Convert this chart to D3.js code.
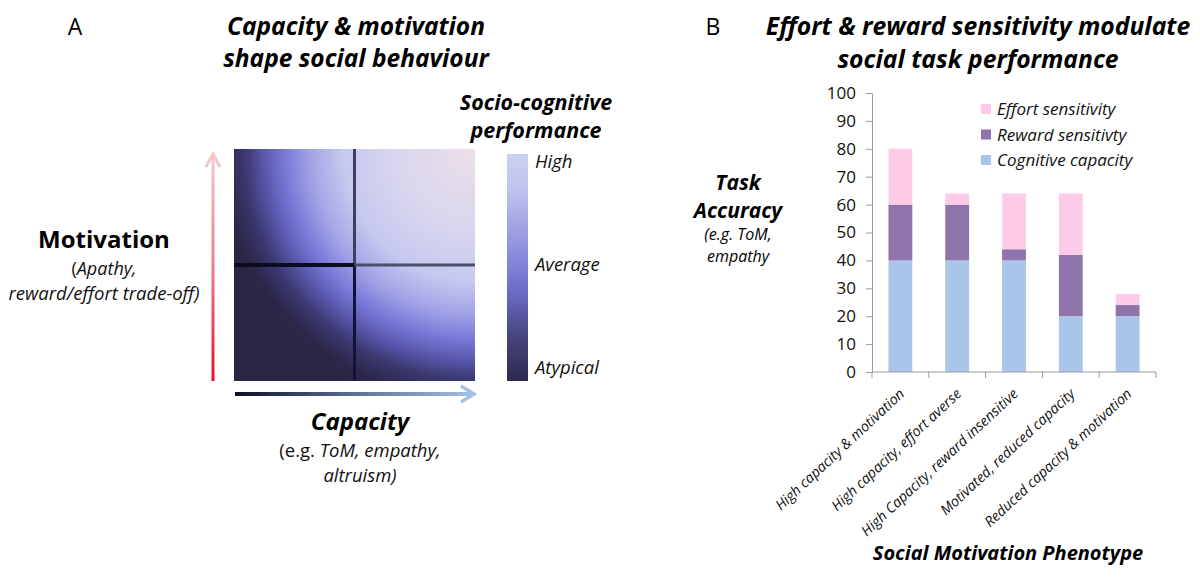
<!DOCTYPE html>
<html>
<head>
<meta charset="utf-8">
<script src="https://cdn.jsdelivr.net/npm/d3@7"></script>
<style>
    body { margin: 0; background: #fff; }
    svg { display: block; font-family: "Open Sans", Lato, sans-serif; }
</style>
</head>
<body>
<svg id="fig"></svg>
<script>
const   width  = 1200,
        height = 583;

// ---- panel B data ----
const phenotypes = [
    "High capacity & motivation",
    "High capacity, effort averse",
    "High Capacity, reward insensitive",
    "Motivated, reduced capacity",
    "Reduced capacity & motivation"
];
const cognitive = [40, 40, 40, 20, 20];
const reward    = [20, 20, 4, 22, 4];
const effort    = [20, 4, 20, 22, 4];
const seriesKeys   = ["cognitive", "reward", "effort"];
const seriesLabels = ["Cognitive capacity", "Reward sensitivty", "Effort sensitivity"];
const seriesColors = ["#a9c5ea", "#8e74ab", "#fccbe8"];
const yTicks = [0, 10, 20, 30, 40, 50, 60, 70, 80, 90, 100];

// ---- panel A gradients ----
const perfLabels = ["High", "Average", "Atypical"];
const heatStops = [
    [0.00, "#ecdfe8"],
    [0.30, "#d9d6ee"],
    [0.50, "#c6c8ef"],
    [0.62, "#a3a4e6"],
    [0.72, "#7878d8"],
    [0.80, "#5856aa"],
    [0.87, "#3b3870"],
    [0.95, "#2c2749"],
    [1.00, "#2a2542"]
];
const scaleStops = [
    [0.00, "#ccd0ef"],
    [0.15, "#c0c4ee"],
    [0.45, "#8a8adc"],
    [0.60, "#6d6dca"],
    [0.80, "#47457f"],
    [1.00, "#2e2a4e"]
];

var svg = d3.select("#fig")
    .attr("width", width)
    .attr("height", height);

svg.append("rect").attr("width", width).attr("height", height).attr("fill", "#fff");

const defs = svg.append("defs");

// helper for text with mixed italic parts
function richText(g, x, y, parts, size, anchor) {
    const t = g.append("text")
        .attr("x", x).attr("y", y)
        .attr("text-anchor", anchor || "middle")
        .attr("font-size", size)
        .attr("fill", "#111");
    parts.forEach(p => {
        t.append("tspan")
            .attr("font-style", p.italic ? "italic" : "normal")
            .attr("font-weight", p.bold ? "bold" : "normal")
            .text(p.t);
    });
    return t;
}

// =================== PANEL A ===================
const A = svg.append("g");

const HEAT = { x: 234, y: 149, w: 241, h: 232 };

const heatGrad = defs.append("radialGradient")
    .attr("id", "heat")
    .attr("gradientUnits", "userSpaceOnUse")
    .attr("cx", HEAT.x + HEAT.w).attr("cy", HEAT.y)
    .attr("fx", HEAT.x + HEAT.w).attr("fy", HEAT.y)
    .attr("r", 265);
heatGrad.selectAll("stop").data(heatStops).enter().append("stop")
    .attr("offset", d => d[0]).attr("stop-color", d => d[1]);

A.append("rect")
    .attr("x", HEAT.x).attr("y", HEAT.y)
    .attr("width", HEAT.w).attr("height", HEAT.h)
    .attr("fill", "url(#heat)");

// quadrant dividers
const midX = HEAT.x + HEAT.w / 2, midY = HEAT.y + HEAT.h / 2;
A.append("line").attr("x1", midX).attr("x2", midX).attr("y1", HEAT.y).attr("y2", midY)
    .attr("stroke", "#3c3f5e").attr("stroke-width", 3);
A.append("line").attr("x1", midX).attr("x2", midX).attr("y1", midY).attr("y2", HEAT.y + HEAT.h)
    .attr("stroke", "#12123a").attr("stroke-width", 3);
A.append("line").attr("x1", HEAT.x).attr("x2", midX).attr("y1", midY).attr("y2", midY)
    .attr("stroke", "#0c0c20").attr("stroke-width", 4);
A.append("line").attr("x1", midX).attr("x2", HEAT.x + HEAT.w).attr("y1", midY).attr("y2", midY)
    .attr("stroke", "#4a4f6c").attr("stroke-width", 3);

// colour bar
const barGrad = defs.append("linearGradient")
    .attr("id", "perf").attr("x1", 0).attr("x2", 0).attr("y1", 0).attr("y2", 1);
barGrad.selectAll("stop").data(scaleStops).enter().append("stop")
    .attr("offset", d => d[0]).attr("stop-color", d => d[1]);

const CB = { x: 507, y: 154, w: 21, h: 227 };
A.append("rect").attr("x", CB.x).attr("y", CB.y).attr("width", CB.w).attr("height", CB.h)
    .attr("fill", "url(#perf)");

const perfY = d3.scalePoint().domain(perfLabels).range([168, 374]);
A.selectAll(".perf").data(perfLabels).enter().append("text")
    .attr("x", 535).attr("y", d => perfY(d))
    .attr("font-size", 18.5).attr("font-style", "italic").attr("fill", "#111")
    .text(d => d);

A.append("text").attr("x", 536).attr("y", 110).attr("text-anchor", "middle")
    .attr("font-size", 21.5).attr("font-weight", "bold").attr("font-style", "italic")
    .text("Socio-cognitive");
A.append("text").attr("x", 536).attr("y", 138).attr("text-anchor", "middle")
    .attr("font-size", 21.5).attr("font-weight", "bold").attr("font-style", "italic")
    .text("performance");

// titles
A.append("text").attr("x", 75).attr("y", 35).attr("text-anchor", "middle")
    .attr("font-size", 23).text("A");
A.append("text").attr("x", 356).attr("y", 35).attr("text-anchor", "middle")
    .attr("font-size", 24.5).attr("font-weight", "bold").attr("font-style", "italic")
    .text("Capacity & motivation");
A.append("text").attr("x", 356).attr("y", 67).attr("text-anchor", "middle")
    .attr("font-size", 24.5).attr("font-weight", "bold").attr("font-style", "italic")
    .text("shape social behaviour");

// motivation arrow
const motGrad = defs.append("linearGradient")
    .attr("id", "mot").attr("gradientUnits", "userSpaceOnUse")
    .attr("x1", 0).attr("x2", 0).attr("y1", 155).attr("y2", 381);
motGrad.append("stop").attr("offset", 0).attr("stop-color", "#efcaca");
motGrad.append("stop").attr("offset", 0.5).attr("stop-color", "#ec7d86");
motGrad.append("stop").attr("offset", 1).attr("stop-color", "#e8122c");
A.append("rect").attr("x", 211.5).attr("y", 155).attr("width", 3).attr("height", 226)
    .attr("fill", "url(#mot)");
A.append("path").attr("d", "M206,167 L213,154 L220,167")
    .attr("fill", "none").attr("stroke", "#efc8c8").attr("stroke-width", 3);

A.append("text").attr("x", 104).attr("y", 248).attr("text-anchor", "middle")
    .attr("font-size", 24).attr("font-weight", "bold").text("Motivation");
richText(A, 104, 275, [{ t: "(" }, { t: "Apathy,", italic: true }], 18);
richText(A, 104, 300, [{ t: "reward/effort trade-off)", italic: true }], 18.5);

// capacity arrow
const capGrad = defs.append("linearGradient")
    .attr("id", "cap").attr("gradientUnits", "userSpaceOnUse")
    .attr("x1", 235).attr("x2", 475).attr("y1", 0).attr("y2", 0);
capGrad.append("stop").attr("offset", 0).attr("stop-color", "#0a0f2e");
capGrad.append("stop").attr("offset", 0.5).attr("stop-color", "#5c7196");
capGrad.append("stop").attr("offset", 1).attr("stop-color", "#a6c0e6");
A.append("rect").attr("x", 235).attr("y", 392).attr("width", 238).attr("height", 4)
    .attr("fill", "url(#cap)");
A.append("path").attr("d", "M461,386 L474,394 L461,402")
    .attr("fill", "none").attr("stroke", "#a6c0e6").attr("stroke-width", 3.5);

A.append("text").attr("x", 360).attr("y", 430).attr("text-anchor", "middle")
    .attr("font-size", 24).attr("font-weight", "bold").attr("font-style", "italic")
    .text("Capacity");
richText(A, 360, 457, [{ t: "(e.g. " }, { t: "ToM, empathy,", italic: true }], 18.5);
richText(A, 360, 482, [{ t: "altruism)", italic: true }], 18.5);

// =================== PANEL B ===================
const B = svg.append("g");

const rows = phenotypes.map((p, i) => ({
    name: p, cognitive: cognitive[i], reward: reward[i], effort: effort[i]
}));
const stacked = d3.stack().keys(seriesKeys)(rows);

const x = d3.scaleBand()
    .domain(phenotypes)
    .range([872, 1156])
    .paddingInner(0.58)
    .paddingOuter(0.29);

const y = d3.scaleLinear().domain([0, 100]).range([372, 93]);

const color = d3.scaleOrdinal().domain(seriesKeys).range(seriesColors);

B.selectAll("g.series").data(stacked).enter().append("g")
    .attr("class", "series")
    .attr("fill", d => color(d.key))
    .selectAll("rect").data(d => d).enter().append("rect")
    .attr("x", d => x(d.data.name))
    .attr("width", x.bandwidth())
    .attr("y", d => y(d[1]))
    .attr("height", d => y(d[0]) - y(d[1]));

// y axis
const yAxis = B.append("g")
    .attr("transform", "translate(872,0)")
    .call(d3.axisLeft(y).tickValues(yTicks).tickSize(6).tickSizeOuter(0).tickPadding(10));
yAxis.select(".domain").attr("stroke", "#9a9a9a");
yAxis.selectAll(".tick line").attr("stroke", "#9a9a9a");
yAxis.selectAll(".tick text")
    .attr("font-family", "'Open Sans', sans-serif").attr("font-size", 17).attr("fill", "#111");

// x axis: line + boundary ticks
const x0 = x.range()[0], x1 = x.range()[1];
B.append("line").attr("x1", x0).attr("x2", x1).attr("y1", y(0)).attr("y2", y(0))
    .attr("stroke", "#9a9a9a");
B.selectAll(".xtick").data(d3.range(phenotypes.length + 1)).enter().append("line")
    .attr("x1", i => x0 + i * x.step()).attr("x2", i => x0 + i * x.step())
    .attr("y1", y(0)).attr("y2", y(0) + 6)
    .attr("stroke", "#9a9a9a");

B.selectAll(".xlab").data(phenotypes).enter().append("text")
    .attr("transform", d => `translate(${x(d) + x.bandwidth() / 2 + 5},${y(0) + 23}) rotate(-43)`)
    .attr("text-anchor", "end")
    .attr("font-size", 14.3).attr("font-style", "italic").attr("fill", "#111")
    .text(d => d);

// legend (top to bottom: effort, reward, cognitive)
const legendOrder = seriesKeys.slice().reverse();
const legY = d3.scalePoint().domain(legendOrder).range([109, 160]);
const leg = B.selectAll(".leg").data(legendOrder).enter().append("g")
    .attr("transform", d => `translate(981,${legY(d)})`);
leg.append("rect").attr("x", 0).attr("y", -5).attr("width", 10).attr("height", 10)
    .attr("fill", d => color(d));
leg.append("text").attr("x", 16).attr("y", 6)
    .attr("font-size", 17).attr("font-style", "italic").attr("fill", "#111")
    .text(d => seriesLabels[seriesKeys.indexOf(d)]);

// titles
B.append("text").attr("x", 713).attr("y", 35).attr("text-anchor", "middle")
    .attr("font-size", 23).text("B");
B.append("text").attr("x", 978).attr("y", 35).attr("text-anchor", "middle")
    .attr("font-size", 24.7).attr("font-weight", "bold").attr("font-style", "italic")
    .text("Effort & reward sensitivity modulate");
B.append("text").attr("x", 978).attr("y", 68).attr("text-anchor", "middle")
    .attr("font-size", 24.7).attr("font-weight", "bold").attr("font-style", "italic")
    .text("social task performance");

// y title
B.append("text").attr("x", 738).attr("y", 190).attr("text-anchor", "middle")
    .attr("font-size", 21).attr("font-weight", "bold").attr("font-style", "italic").text("Task");
B.append("text").attr("x", 738).attr("y", 218).attr("text-anchor", "middle")
    .attr("font-size", 21).attr("font-weight", "bold").attr("font-style", "italic").text("Accuracy");
B.append("text").attr("x", 738).attr("y", 240).attr("text-anchor", "middle")
    .attr("font-size", 16).attr("font-style", "italic").text("(e.g. ToM,");
B.append("text").attr("x", 738).attr("y", 262).attr("text-anchor", "middle")
    .attr("font-size", 16).attr("font-style", "italic").text("empathy");

// x title
B.append("text").attr("x", 1008).attr("y", 560).attr("text-anchor", "middle")
    .attr("font-size", 20).attr("font-weight", "bold").attr("font-style", "italic")
    .text("Social Motivation Phenotype");
</script>
</body>
</html>
